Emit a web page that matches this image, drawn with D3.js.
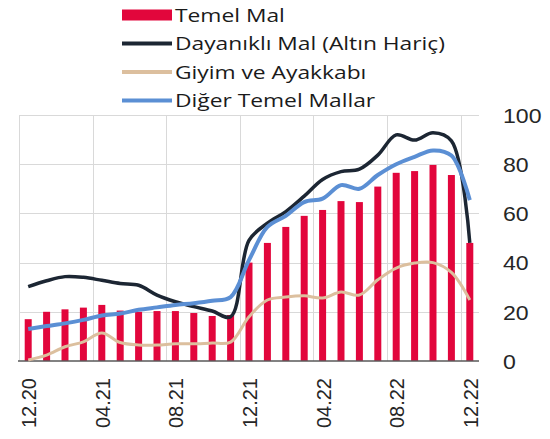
<!DOCTYPE html>
<html lang="tr">
<head>
<meta charset="UTF-8">
<title>Temel Mal</title>
<style>
    body { margin: 0; padding: 0; background: #fff; }
    svg { display: block; }
    .legend text { font-family: "Open Sans", sans-serif; font-size: 19px; fill: #1a1a1a; }
    .axis text { font-family: "Liberation Sans", Arial, sans-serif; font-size: 20px; fill: #262626; }
</style>
</head>
<body>
<div id="chart"></div>
<script src="https://cdnjs.cloudflare.com/ajax/libs/d3/7.8.5/d3.min.js"></script>
<script>
    const months = ['12.20', '01.21', '02.21', '03.21', '04.21', '05.21', '06.21', '07.21', '08.21', '09.21', '10.21', '11.21',
                    '12.21', '01.22', '02.22', '03.22', '04.22', '05.22', '06.22', '07.22', '08.22', '09.22', '10.22', '11.22', '12.22'];
    const tickLabels = ['12.20', '04.21', '08.21', '12.21', '04.22', '08.22', '12.22'];
    const yTicks = [0, 20, 40, 60, 80, 100];

    const temelMal = [17, 20, 21, 21.7, 22.8, 20.5, 20, 20.3, 20.3, 19.5, 18.3, 18.7,
                      40, 48, 54.5, 59, 61.4, 65, 64.6, 70.9, 76.5, 77.2, 79.7, 75.6, 48];
    const dayanikli = [30.2, 32.6, 34.3, 34, 32.8, 31.5, 30.8, 26.8, 24.1, 22.1, 20.3, 18,
                       49, 56, 60.7, 67, 73.8, 77, 78, 83.7, 91.9, 89.8, 92.8, 89.5, 48];
    const giyim = [0.4, 2.4, 5.8, 7.8, 11.4, 7.5, 6.5, 6.5, 7, 7, 7.3, 7.7,
                   18, 24.8, 26, 26.5, 25.6, 28, 26.8, 33, 37.8, 39.8, 40, 36, 24.8];
    const digerTemel = [13, 14.2, 15.3, 16.7, 18.5, 19.3, 20.8, 21.8, 22.8, 23.5, 24.5, 26,
                        41, 54.5, 59, 64.6, 66, 71.5, 70, 75.6, 80, 83, 85.6, 83.5, 65.4];

    const width = 550, height = 439;
    const plot = { left: 19, right: 479, top: 115, bottom: 361 };

    const svg = d3.select('#chart').append('svg')
        .attr('width', width)
        .attr('height', height);

    svg.append('rect').attr('width', width).attr('height', height).attr('fill', '#fff');

    const x = d3.scaleBand()
        .domain(months)
        .range([plot.left, plot.right])
        .paddingInner(0.62)
        .paddingOuter(0.31);
    const cx = d => x(d) + x.bandwidth() / 2;

    const y = d3.scaleLinear()
        .domain([0, 100])
        .range([plot.bottom, plot.top]);

    // grid
    const grid = svg.append('g').attr('stroke', '#d9d9d9').attr('stroke-width', 1);
    grid.selectAll('line.h')
        .data(yTicks.filter(v => v > 0))
        .enter().append('line')
        .attr('x1', plot.left).attr('x2', plot.right)
        .attr('y1', d => Math.round(y(d)) + 0.5).attr('y2', d => Math.round(y(d)) + 0.5);
    grid.selectAll('line.v')
        .data(tickLabels)
        .enter().append('line')
        .attr('x1', d => Math.round(cx(d) - x.step() / 2) + 0.5)
        .attr('x2', d => Math.round(cx(d) - x.step() / 2) + 0.5)
        .attr('y1', plot.top).attr('y2', plot.bottom);

    // bars
    svg.append('g').selectAll('rect')
        .data(months)
        .enter().append('rect')
        .attr('x', d => x(d))
        .attr('width', x.bandwidth())
        .attr('y', (d, i) => y(temelMal[i]))
        .attr('height', (d, i) => y(0) - y(temelMal[i]))
        .attr('fill', '#e2063c');

    // baseline
    svg.append('line')
        .attr('x1', plot.left - 1).attr('x2', plot.right)
        .attr('y1', y(0)).attr('y2', y(0))
        .attr('stroke', '#595959').attr('stroke-width', 1.5);

    const line = d3.line()
        .x((d, i) => cx(months[i]))
        .y(d => y(d))
        .curve(d3.curveCatmullRom.alpha(0.5));

    const series = [
        { values: giyim, color: '#dcbf9e', w: 3 },
        { values: dayanikli, color: '#1c2633', w: 3.5 },
        { values: digerTemel, color: '#5b8fd4', w: 4 }
    ];

    svg.append('g').selectAll('path')
        .data(series)
        .enter().append('path')
        .attr('fill', 'none')
        .attr('stroke', d => d.color)
        .attr('stroke-width', d => d.w)
        .attr('stroke-linejoin', 'round')
        .attr('d', d => line(d.values));

    // right axis
    const yAxis = svg.append('g')
        .attr('class', 'axis')
        .attr('transform', `translate(${plot.right + 24},0)`)
        .call(d3.axisRight(y).tickValues(yTicks).tickSize(0).tickPadding(0));
    yAxis.select('.domain').remove();
    yAxis.selectAll('text')
        .attr('dy', '0.35em')
        .style('font-size', '21px')
        .attr('transform', 'scale(1.1,1)');

    // bottom axis
    const xAxis = svg.append('g')
        .attr('class', 'axis')
        .attr('transform', `translate(0,${plot.bottom})`)
        .call(d3.axisBottom(x).tickValues(tickLabels).tickSize(0));
    xAxis.select('.domain').remove();
    xAxis.selectAll('text')
        .attr('text-anchor', 'end')
        .attr('transform', 'translate(1,17) rotate(-90)')
        .attr('x', 0)
        .attr('y', 0)
        .attr('dy', '0.35em');

    // legend
    const legendItems = [
        { name: 'Temel Mal', color: '#e2063c', type: 'bar' },
        { name: 'Dayanıklı Mal (Altın Hariç)', color: '#1c2633', type: 'line' },
        { name: 'Giyim ve Ayakkabı', color: '#dcbf9e', type: 'line' },
        { name: 'Diğer Temel Mallar', color: '#5b8fd4', type: 'line' }
    ];

    const legend = svg.append('g').attr('class', 'legend');
    const item = legend.selectAll('g')
        .data(legendItems)
        .enter().append('g')
        .attr('transform', (d, i) => `translate(122,${15 + i * 28.5})`);

    item.filter(d => d.type === 'bar').append('rect')
        .attr('x', 0).attr('y', -5.5).attr('width', 50).attr('height', 11)
        .attr('fill', d => d.color);
    item.filter(d => d.type === 'line').append('line')
        .attr('x1', 0).attr('x2', 50).attr('y1', 0).attr('y2', 0)
        .attr('stroke', d => d.color).attr('stroke-width', 4);
    item.append('text')
        .attr('transform', 'translate(53,0) scale(1.2,1)')
        .attr('dy', '0.35em')
        .text(d => d.name);
</script>
</body>
</html>
